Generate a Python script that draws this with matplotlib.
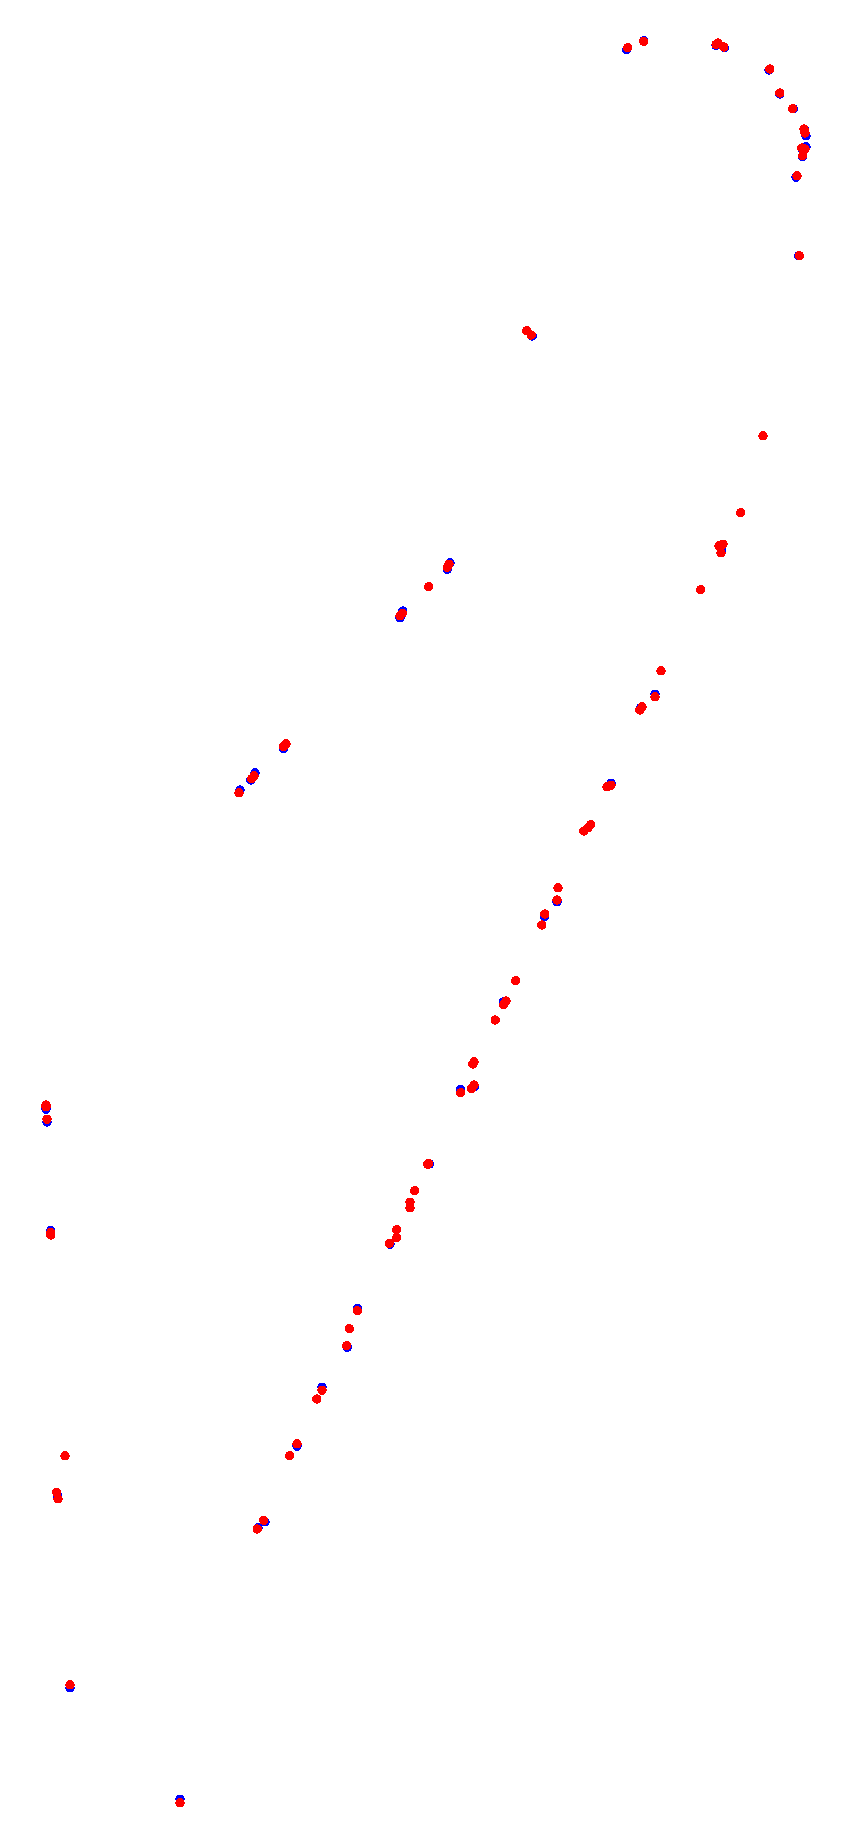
import matplotlib
matplotlib.use('Agg')
import matplotlib.pyplot as plt

# point positions (image units: x to the right, y downwards)
red_x = [627.7, 643.7, 716, 718, 723.7, 769.7, 779.7, 792.7, 804, 805, 801.7, 805, 802.7, 797, 799.3,
         526.7, 531.3, 763, 740.7, 719, 723, 721, 700.7, 449, 447.3, 428.7, 402.3, 400,
         661, 655, 642, 639.7, 286, 283.3, 254, 251.7, 239, 611, 607, 590.7, 588, 583.7,
         558, 557, 544.7, 541.7, 515.7, 506, 503.7, 495.3, 474, 472.7, 474, 471.3, 460.7,
         428.7, 427.7, 414.7, 410, 410, 46, 46, 47, 50.7, 50.7,
         396.7, 396.7, 389.3, 357.3, 349.3, 346.7, 322, 316.7, 297, 289.7, 263.7, 257.3,
         65, 56.7, 58, 70, 180]
red_y = [47.7, 41.3, 44.5, 43, 47, 69, 93, 108.7, 129, 133, 148, 149, 155.7, 175.7, 255.7,
         330.7, 335, 435.7, 512.7, 545.7, 544.3, 552.7, 589.7, 564.3, 567.3, 586.7, 613.3, 615.7,
         670.7, 696.7, 706.7, 710, 743.7, 746.7, 775.7, 778.7, 792.7, 785.3, 786.7, 824.7, 827.7, 831,
         887.7, 900, 914, 925, 980.7, 1001, 1004.7, 1020, 1061.7, 1064, 1085, 1088.7, 1092.7,
         1163.3, 1164.3, 1190.7, 1202.3, 1207.7, 1105, 1106.7, 1119.3, 1232.5, 1235,
         1229.7, 1237.7, 1243.3, 1310.7, 1328.7, 1345.7, 1390.3, 1399, 1443.7, 1455.7, 1520.3, 1529,
         1455.7, 1492.3, 1498.7, 1684.7, 1802.7]

blue_x = [626.7, 643.7, 716, 718.5, 724.3, 769, 779.7, 793.3, 804.7, 806, 801.7, 806, 802.7, 796, 798.7,
          526.7, 532.3, 763, 740.7, 719, 723, 721.7, 700.7, 450, 447.3, 428.7, 402.7, 400,
          661, 655, 642, 640.7, 286, 283.7, 255, 250.7, 240, 611, 607, 590.7, 588, 583.7,
          558, 557, 544.7, 541.7, 515.7, 506, 503.3, 495.3, 474, 472.7, 474.7, 471.3, 460.7,
          429.5, 427.7, 414.7, 410, 410, 46, 46, 47, 50.7, 50.7,
          396.7, 396.7, 390, 357.3, 349.3, 347.3, 322, 316.7, 297, 289.7, 265, 258,
          65, 56.7, 57.3, 70, 180]
blue_y = [49.7, 40.7, 45.5, 44, 47.7, 70, 94, 108.7, 130, 135.7, 148.5, 146.7, 156.7, 177.3, 255.7,
          330.7, 336, 435.7, 512.7, 545.7, 544.3, 551, 589.7, 562.7, 569.3, 586.7, 611, 617.7,
          670.7, 694.3, 706.7, 707.7, 743.7, 748.7, 772.7, 780, 790, 783.3, 786.7, 824.7, 827.7, 831,
          887.7, 901.7, 916.7, 925, 980.7, 1001, 1002, 1020, 1061.7, 1064, 1086.7, 1088.7, 1089.3,
          1164, 1164.3, 1190.7, 1202.3, 1207.7, 1107, 1109.3, 1122, 1230.5, 1233,
          1229.7, 1237.7, 1244.3, 1308.3, 1328.7, 1347.3, 1387.3, 1399, 1446.3, 1455.7, 1521.7, 1527.7,
          1455.7, 1492.3, 1495, 1687.7, 1799.3]

fig = plt.figure(figsize=(8.48, 18.43), dpi=100)
ax = fig.add_axes([0, 0, 1, 1])

ax.scatter(blue_x, blue_y, s=34, c='#0000ff', edgecolors='none', antialiased=False)
ax.scatter(red_x, red_y, s=34, c='#ff0000', edgecolors='none', antialiased=False)

ax.set_xlim(0, 848)
ax.set_ylim(1843, 0)
ax.axis('off')

fig.savefig('out.png', dpi=100, facecolor='white')
